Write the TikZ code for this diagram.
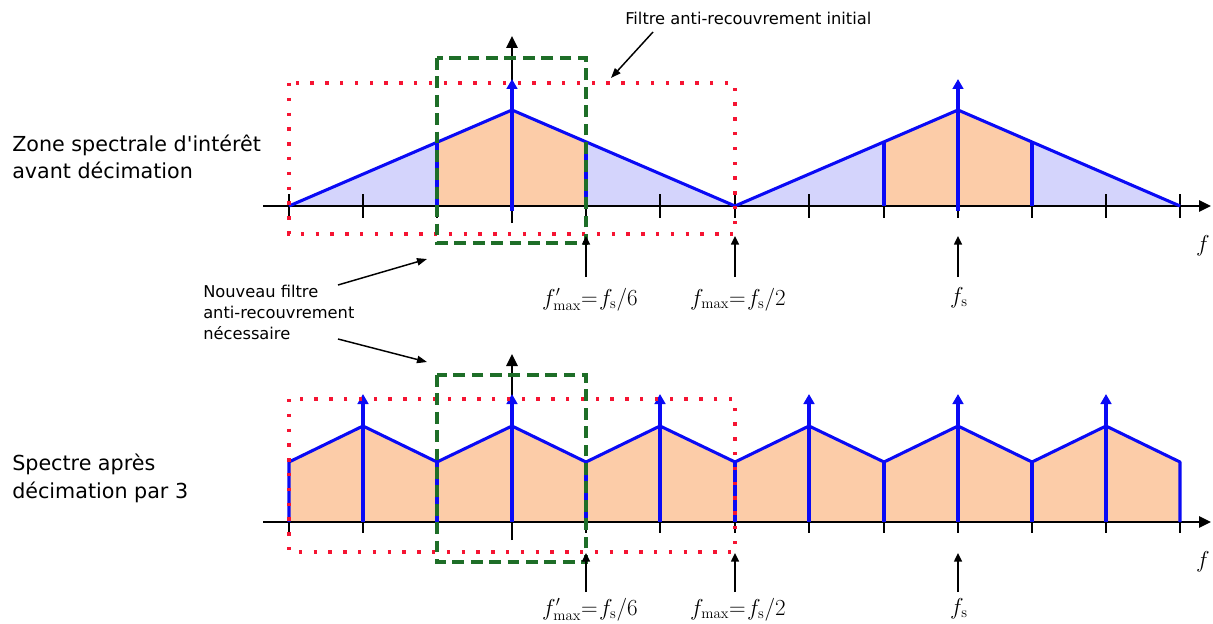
\documentclass[tikz,border=0pt]{standalone}
\usepackage{fontspec}
\usetikzlibrary{arrows.meta}
\newfontfamily\dvs{DejaVu Sans}
\definecolor{rdot}{RGB}{245,20,50}
\definecolor{gdash}{RGB}{30,110,40}
\definecolor{lav}{RGB}{212,212,252}
\definecolor{peach}{RGB}{252,204,168}
\definecolor{bblue}{RGB}{10,10,245}
\begin{document}
\begin{tikzpicture}[x=0.75pt,y=-0.75pt,
  ax/.style={line width=1.5pt,-{Triangle[length=9pt,width=8.5pt]}},
  tk/.style={line width=1.1pt},
  bl/.style={bblue,line width=2.3pt,line join=round},
  imp/.style={bblue,line width=2.3pt,-{Triangle[length=7.5pt,width=8pt]}},
  rbox/.style={rdot,line width=2.5pt,dash pattern=on 2.5pt off 8.6pt},
  gbox/.style={gdash,line width=3.2pt,dash pattern=on 8.8pt off 5pt},
  uparr/.style={line width=1.1pt,-{Triangle[length=6.5pt,width=6pt]}},
  note/.style={line width=1.1pt,-{Triangle[length=7.5pt,width=5.5pt]}},
  lbl/.style={font=\dvs\fontsize{15.5pt}{20.3pt}\selectfont,align=left,inner sep=0pt},
  sm/.style={font=\dvs\fontsize{12.2pt}{15.4pt}\selectfont,align=left,inner sep=0pt},
  mth/.style={font=\fontsize{16pt}{18pt}\selectfont,inner sep=0pt}]
\useasboundingbox (0,0) rectangle (1213,624);

% ---------------- top panel ----------------
\fill[lav] (289,206) -- (437,142) -- (437,206) -- cycle;
\fill[lav] (586,142) -- (735,206) -- (586,206) -- cycle;
\fill[lav] (735,206) -- (884,142) -- (884,206) -- cycle;
\fill[lav] (1032,142) -- (1180,206) -- (1032,206) -- cycle;
\fill[peach] (437,206) -- (437,142) -- (512,110) -- (586,142) -- (586,206) -- cycle;
\fill[peach] (884,206) -- (884,142) -- (958,110) -- (1032,142) -- (1032,206) -- cycle;

\draw[ax] (263,206) -- (1211,206);
\foreach \x in {289,363,437,586,660,735,809,884,958,1032,1106,1180}
  \draw[tk] (\x,194) -- (\x,218);
\draw[ax] (512,223) -- (512,36);

\draw[bl] (289,206) -- (512,110) -- (735,206) -- (958,110) -- (1180,206);
\foreach \x in {437,586,884,1032} \draw[bl] (\x,206) -- (\x,142);
\draw[imp] (512,211) -- (512,79);
\draw[imp] (958,211) -- (958,79);

\draw[rbox] (289,83) rectangle (735,234);
\draw[gbox] (437,58) rectangle (586,243);

\node[mth,anchor=base] (fp1) at (590,305) {$f'_{\max}{=}\mkern1mu f_{\mathrm{s}}/6$};
\node[mth,anchor=base] (fm1) at (738,305) {$f_{\max}{=}\mkern1mu f_{\mathrm{s}}/2$};
\node[mth,anchor=base] (fs1) at (959,303) {$f_{\mathrm{s}}$};
\coordinate (t1) at (586,236);
\coordinate (t2) at (735,236);
\coordinate (t3) at (958,236);
\draw[uparr] (586,277) -- (t1);
\draw[uparr] (735,277) -- (t2);
\draw[uparr] (958,277) -- (t3);
\node[mth,anchor=base,font=\fontsize{18pt}{20pt}\selectfont] (f1) at (1203,251) {$f$};

% ---------------- bottom panel ----------------
\foreach \x in {289,363,437,586,660,735,809,884,958,1032,1106,1180}
  \draw[tk] (\x,512) -- (\x,533);
\fill[peach] (289,522) -- (289,462) -- (363,426) -- (437,462) -- (512,426) -- (586,462)
  -- (660,426) -- (735,462) -- (809,426) -- (884,462) -- (958,426) -- (1032,462)
  -- (1106,426) -- (1180,462) -- (1180,522) -- cycle;
\draw[ax] (263,522) -- (1211,522);
\draw[ax] (512,540) -- (512,354);
\draw[bl] (289,522) -- (289,462) -- (363,426) -- (437,462) -- (512,426) -- (586,462)
  -- (660,426) -- (735,462) -- (809,426) -- (884,462) -- (958,426) -- (1032,462)
  -- (1106,426) -- (1180,462) -- (1180,522);
\foreach \x in {437,586,735,884,1032} \draw[bl] (\x,522) -- (\x,462);
\foreach \x in {363,512,660,809,958,1106} \draw[imp] (\x,522) -- (\x,394);

\draw[rbox] (289,399) rectangle (735,552);
\draw[gbox] (437,375) rectangle (586,562);

\node[mth,anchor=base] (fp2) at (590,615) {$f'_{\max}{=}\mkern1mu f_{\mathrm{s}}/6$};
\node[mth,anchor=base] (fm2) at (738,615) {$f_{\max}{=}\mkern1mu f_{\mathrm{s}}/2$};
\node[mth,anchor=base] (fs2) at (959,614) {$f_{\mathrm{s}}$};
\coordinate (b1) at (586,553);
\coordinate (b2) at (735,553);
\coordinate (b3) at (958,553);
\draw[uparr] (586,592) -- (b1);
\draw[uparr] (735,592) -- (b2);
\draw[uparr] (958,592) -- (b3);
\node[mth,anchor=base,font=\fontsize{18pt}{20pt}\selectfont] (f2) at (1203,567) {$f$};

% ---------------- texts ----------------
\node[lbl,anchor=base west] (zone) at (12,179) {Zone spectrale d'intérêt\\avant décimation};
\node[lbl,anchor=base west] (spec) at (12,498) {Spectre après\\décimation par 3};
\node[sm,anchor=base west] (init) at (625,25) {Filtre anti-recouvrement initial};
\node[sm,anchor=base west] (nouv) at (203,339) {Nouveau filtre\\anti-recouvrement\\nécessaire};
\coordinate (n1s) at (338,285);
\coordinate (n1e) at (427,259);
\coordinate (n2s) at (338,339);
\coordinate (n2e) at (427,362);
\coordinate (i1s) at (653,32);
\coordinate (i1e) at (611,78);
\draw[note] (n1s) -- (n1e);
\draw[note] (n2s) -- (n2e);
\draw[note] (i1s) -- (i1e);
\end{tikzpicture}
\end{document}
